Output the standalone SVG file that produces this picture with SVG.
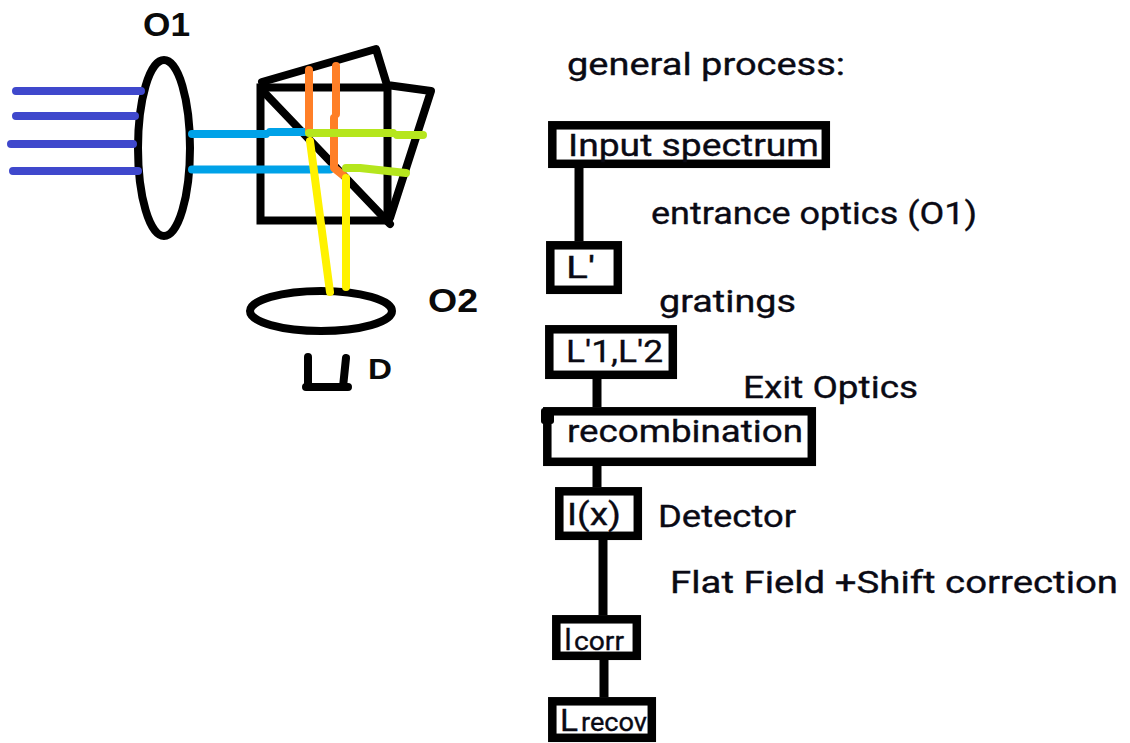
<svg xmlns="http://www.w3.org/2000/svg" width="1130" height="743" viewBox="0 0 1130 743">
<style>
.t{font-family:Roboto,"Noto Sans",sans-serif;font-weight:400;font-size:32px;fill:#0a0a14;stroke:#0a0a14;stroke-width:.35}
.s{font-family:Roboto,"Noto Sans",sans-serif;font-weight:400;font-size:26px;fill:#0a0a14;stroke:#0a0a14;stroke-width:.35}
.b{font-family:"Liberation Sans",Arial,sans-serif;font-weight:bold;fill:#0a0a0a}
.box{fill:#fff;stroke:#000;stroke-width:8.5}
.k{fill:none;stroke:#000;stroke-width:8;stroke-linecap:round;stroke-linejoin:round}
.c{fill:none;stroke:#000;stroke-width:9}
.r{fill:none;stroke-width:8;stroke-linecap:round;stroke-linejoin:round}
.blue{stroke:#3f48cc}.cyan{stroke:#00a2e8}.green{stroke:#b5e61d}.orange{stroke:#ff7f27}.yellow{stroke:#fff200}
</style>
<rect width="1130" height="743" fill="#fff"/>
<g id="optics">
<ellipse id="lens-o1" class="k" cx="164" cy="148" rx="26" ry="88"/>
<path id="prism" class="k" d="M262 82L376 49L387 85L431 91L390 218"/>
<rect id="cube" x="260.500" y="87.500" width="127" height="133" fill="none" stroke="#000" stroke-width="8"/>
<path id="splitter" class="k" d="M262 90L390 224"/>
<ellipse id="lens-o2" class="k" cx="321" cy="311" rx="71" ry="20"/>
<path id="detector" class="k" d="M308 357V387M306 387H348M346 358L343 387"/>
<path d="M309 357V387" stroke="#000" stroke-width="6" fill="none"/>
</g>
<g id="rays">
<path class="r blue" d="M16 91H141M16 116H135M11 144H133M13 171H138"/>
<path class="r cyan" d="M192 134H266M270 132H305M192 169.500H330"/>
<path class="r orange" d="M309 70V130M336 66V114M334 118V168L343 175"/>
<path class="r green" d="M309 133L393 133M397 135H423M346 168H360L406 173"/>
<path class="r yellow" d="M310 141L330 292M346 178V287"/>
</g>
<g id="labels-optics">
<text class="b" x="143" y="36" font-size="34" textLength="47" lengthAdjust="spacingAndGlyphs">O1</text>
<text class="b" x="428" y="312" font-size="34" textLength="50" lengthAdjust="spacingAndGlyphs">O2</text>
<text class="b" x="368" y="379" font-size="29" textLength="24" lengthAdjust="spacingAndGlyphs">D</text>
</g>
<g id="connectors">
<path class="c" d="M579 168V241"/>
<path class="c" d="M597 379V407"/>
<path class="c" d="M597 466V487"/>
<path class="c" d="M603 540V615"/>
<path class="c" d="M604 660V697"/>
</g>
<g id="n-input"><rect class="box" x="552.300" y="125.300" width="273.500" height="38.500"/><text class="t" x="568" y="156" textLength="251" lengthAdjust="spacingAndGlyphs">Input spectrum</text></g>
<g id="n-l"><rect class="box" x="550.300" y="245.300" width="67.500" height="44.500"/><text class="t" x="566" y="278" textLength="29" lengthAdjust="spacingAndGlyphs">L'</text></g>
<g id="n-l12"><rect class="box" x="549.300" y="329.300" width="123.500" height="45.500"/><text class="t" x="566" y="362" textLength="97" lengthAdjust="spacingAndGlyphs">L'1,L'2</text></g>
<g id="n-recomb"><rect class="box" x="547.300" y="411.300" width="264.500" height="50.500"/><rect x="541" y="408" width="13" height="16" rx="3" fill="#000"/><text class="t" x="567" y="442" textLength="236" lengthAdjust="spacingAndGlyphs">recombination</text></g>
<g id="n-ix"><rect class="box" x="559.300" y="491.300" width="78.500" height="44.500"/><text class="t" x="567" y="525" textLength="54" lengthAdjust="spacingAndGlyphs">I(x)</text></g>
<g id="n-icorr"><rect class="box" x="556.300" y="619.300" width="80.500" height="36.500"/><text class="t" x="564" y="650" textLength="8" lengthAdjust="spacingAndGlyphs">I</text><text class="s" x="574" y="650" textLength="50" lengthAdjust="spacingAndGlyphs">corr</text></g>
<g id="n-lrecov"><rect class="box" x="552.300" y="701.300" width="99.500" height="36.500"/><text class="t" x="560" y="731" textLength="18" lengthAdjust="spacingAndGlyphs">L</text><text class="s" x="581" y="731" textLength="66" lengthAdjust="spacingAndGlyphs">recov</text></g>
<g id="labels-process">
<text class="t" x="567" y="75" textLength="278" lengthAdjust="spacingAndGlyphs">general process:</text>
<text class="t" x="651" y="224" textLength="326" lengthAdjust="spacingAndGlyphs">entrance optics (O1)</text>
<text class="t" x="659" y="312" textLength="137" lengthAdjust="spacingAndGlyphs">gratings</text>
<text class="t" x="743" y="398" textLength="175" lengthAdjust="spacingAndGlyphs">Exit Optics</text>
<text class="t" x="658" y="527" textLength="138" lengthAdjust="spacingAndGlyphs">Detector</text>
<text class="t" x="670" y="593" textLength="448" lengthAdjust="spacingAndGlyphs">Flat Field +Shift correction</text>
</g>
</svg>
